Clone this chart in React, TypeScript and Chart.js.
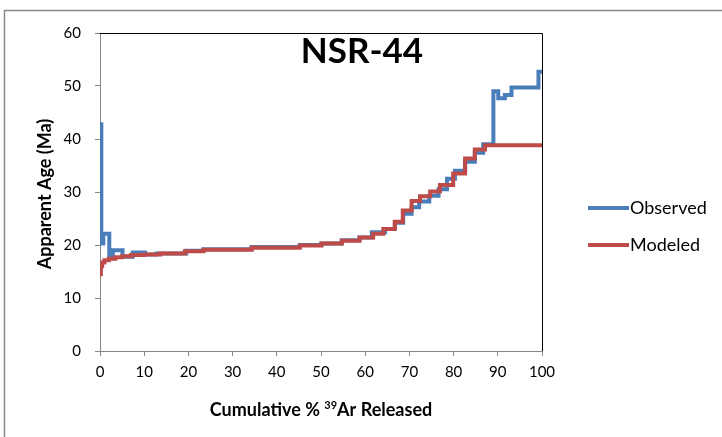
import React, { useEffect, useRef } from "react";
import { Chart, registerables } from "chart.js";

Chart.register(...registerables);

const chartTitle = "NSR-44";
const xTitleMain = "Cumulative % ";
const xTitleSup = "39";
const xTitleRest = "Ar Released";
const yAxisTitle = "Apparent Age (Ma)";

const xTicks = [0, 10, 20, 30, 40, 50, 60, 70, 80, 90, 100];
const yTicks = [0, 10, 20, 30, 40, 50, 60];

const seriesNames = ["Observed", "Modeled"];
const seriesColors = ["#4A7EBB", "#BE4B48"];

// Step starts (cumulative % 39Ar) and apparent ages (Ma)
const observedStart = [
  0, 0.3, 0.75, 2.1, 2.9, 5.1, 7.4, 10.2, 12.8, 19.5, 23.4, 34.3, 45.2, 50.1,
  54.7, 58.7, 61.5, 64.5, 66.7, 68.6, 70.5, 72.2, 74.5, 76.6, 78.5, 80.3, 82.6,
  84.8, 86.7, 89.0, 90.1, 91.6, 93.1, 99.2,
];
const observedAge = [
  42.8, 20.3, 22.1, 17.5, 19.0, 17.8, 18.6, 18.2, 18.4, 18.9, 19.2, 19.6, 20.0,
  20.3, 20.9, 21.4, 22.4, 23.0, 24.2, 25.9, 27.1, 28.2, 29.3, 30.5, 32.5, 34.0,
  35.7, 37.4, 39.0, 49.0, 47.7, 48.3, 49.7, 52.7,
];

const modeledStart = [
  0, 0.2, 0.5, 1.0, 2.0, 3.5, 5.0, 7.0, 10.0, 13.6, 19.2, 23.4, 34.3, 45.2,
  50.1, 54.7, 58.7, 61.8, 64.1, 66.7, 68.5, 70.5, 72.4, 74.7, 76.9, 79.9, 82.6,
  84.8, 87.1,
];
const modeledAge = [
  14.5, 16.0, 16.7, 17.1, 17.4, 17.7, 17.9, 18.1, 18.2, 18.4, 18.8, 19.1, 19.5,
  19.9, 20.3, 20.8, 21.4, 22.1, 23.0, 24.4, 26.5, 28.3, 29.2, 30.1, 31.3, 33.5,
  36.3, 38.0, 38.8,
];

const endPct = 100;

function toSteps(starts: number[], ages: number[]) {
  const pts = starts.map((x, i) => ({ x, y: ages[i] }));
  pts.push({ x: endPct, y: ages[ages.length - 1] });
  return pts;
}

const W = 722;
const H = 437;

const decorPlugin = {
  id: "decor",
  beforeDraw(chart: any) {
    const ctx = chart.ctx as CanvasRenderingContext2D;
    ctx.save();
    ctx.fillStyle = "#ffffff";
    ctx.fillRect(0, 0, W, H);
    ctx.strokeStyle = "#8a8a8a";
    ctx.lineWidth = 1.5;
    ctx.strokeRect(4.5, 10.5, 760, 460);
    ctx.restore();
  },
  afterDraw(chart: any) {
    const ctx = chart.ctx as CanvasRenderingContext2D;
    const { left, right, top, bottom } = chart.chartArea;
    ctx.save();
    // top & right frame of plot area
    ctx.strokeStyle = "#000000";
    ctx.lineWidth = 1;
    ctx.beginPath();
    ctx.moveTo(left, Math.round(top) + 0.5);
    ctx.lineTo(Math.round(right) + 0.5, Math.round(top) + 0.5);
    ctx.lineTo(Math.round(right) + 0.5, bottom);
    ctx.stroke();

    // chart title
    ctx.fillStyle = "#000000";
    ctx.font = "bold 35px Lato";
    ctx.textAlign = "center";
    ctx.textBaseline = "alphabetic";
    ctx.fillText(chartTitle, 362, 63);

    // x axis title with superscript
    const mainFont = "bold 18px Lato";
    const supFont = "bold 11px Lato";
    ctx.font = mainFont;
    const w1 = ctx.measureText(xTitleMain).width;
    const w3 = ctx.measureText(xTitleRest).width;
    ctx.font = supFont;
    const w2 = ctx.measureText(xTitleSup).width;
    const total = w1 + w2 + w3;
    let x = 321 - total / 2;
    const base = 416;
    ctx.textAlign = "left";
    ctx.font = mainFont;
    ctx.fillText(xTitleMain, x, base);
    x += w1;
    ctx.font = supFont;
    ctx.fillText(xTitleSup, x, base - 7);
    x += w2;
    ctx.font = mainFont;
    ctx.fillText(xTitleRest, x, base);

    // y axis title
    ctx.save();
    ctx.translate(45, 194);
    ctx.rotate(-Math.PI / 2);
    ctx.font = "bold 18px Lato";
    ctx.textAlign = "center";
    ctx.textBaseline = "middle";
    ctx.fillText(yAxisTitle, 0, 0);
    ctx.restore();

    // legend
    const legendY = [208, 245];
    seriesNames.forEach((name, i) => {
      ctx.strokeStyle = seriesColors[i];
      ctx.lineWidth = 4;
      ctx.lineCap = "butt";
      ctx.beginPath();
      ctx.moveTo(588, legendY[i]);
      ctx.lineTo(629, legendY[i]);
      ctx.stroke();
      ctx.fillStyle = "#000000";
      ctx.font = "18px Lato";
      ctx.textAlign = "left";
      ctx.textBaseline = "middle";
      ctx.fillText(name, 630, legendY[i]);
    });
    ctx.restore();
  },
};

export default function App() {
  const canvasRef = useRef<HTMLCanvasElement | null>(null);

  useEffect(() => {
    const canvas = canvasRef.current;
    if (!canvas) return;
    const gridCfg = {
      display: true,
      drawOnChartArea: false,
      drawTicks: true,
      tickLength: 5,
      color: "#868686",
    };
    const chart = new Chart(canvas, {
      type: "line",
      data: {
        datasets: [
          {
            label: seriesNames[0],
            data: toSteps(observedStart, observedAge),
            borderColor: seriesColors[0],
            backgroundColor: seriesColors[0],
            borderWidth: 4,
            pointRadius: 0,
            stepped: "before",
            fill: false,
            order: 1,
          },
          {
            label: seriesNames[1],
            data: toSteps(modeledStart, modeledAge),
            borderColor: seriesColors[1],
            backgroundColor: seriesColors[1],
            borderWidth: 4,
            pointRadius: 0,
            stepped: "before",
            fill: false,
            order: 0,
          },
        ],
      },
      options: {
        animation: false,
        responsive: false,
        devicePixelRatio: 1,
        layout: { padding: { left: 0, top: 33, right: 180, bottom: 0 } },
        plugins: {
          legend: { display: false },
          title: { display: false },
          tooltip: { enabled: false },
        },
        scales: {
          x: {
            type: "linear",
            min: 0,
            max: 100,
            afterBuildTicks: (s: any) => {
              s.ticks = xTicks.map((v) => ({ value: v }));
            },
            afterFit: (s: any) => {
              s.height = 86;
            },
            grid: gridCfg,
            border: { display: true, color: "#868686", width: 1 },
            ticks: {
              color: "#000000",
              font: { family: "Lato", size: 15 },
              padding: 7,
              maxRotation: 0,
              autoSkip: false,
            },
          },
          y: {
            type: "linear",
            min: 0,
            max: 60,
            afterBuildTicks: (s: any) => {
              s.ticks = yTicks.map((v) => ({ value: v }));
            },
            afterFit: (s: any) => {
              s.width = 100;
            },
            grid: gridCfg,
            border: { display: true, color: "#868686", width: 1 },
            ticks: {
              color: "#000000",
              font: { family: "Lato", size: 15 },
              padding: 14,
              autoSkip: false,
            },
          },
        },
      },
      plugins: [decorPlugin],
    } as any);
    return () => chart.destroy();
  }, []);

  return (
    <div style={{ position: "fixed", left: 0, top: 0, width: W, height: H, background: "#fff" }}>
      <canvas ref={canvasRef} width={W} height={H} style={{ display: "block" }} />
    </div>
  );
}
